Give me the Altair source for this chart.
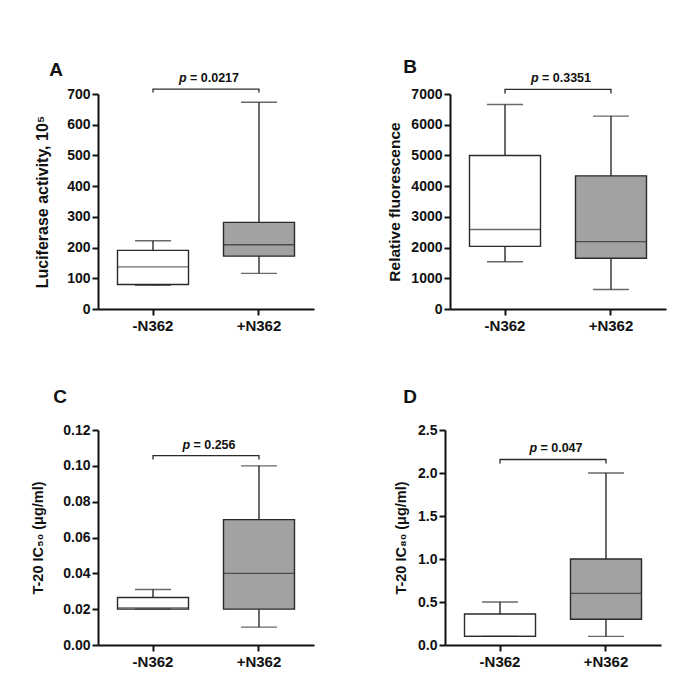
import altair as alt
import pandas as pd

GROUPS = ["-N362", "+N362"]

A_MIN = [77, 116]
A_Q1 = [80, 172]
A_MED = [137, 209]
A_Q3 = [191, 282]
A_MAX = [222, 673]

B_MIN = [1540, 633]
B_Q1 = [2040, 1650]
B_MED = [2590, 2195]
B_Q3 = [5000, 4335]
B_MAX = [6660, 6280]

C_MIN = [0.020, 0.010]
C_Q1 = [0.020, 0.020]
C_MED = [0.0207, 0.040]
C_Q3 = [0.0265, 0.070]
C_MAX = [0.031, 0.100]

D_MIN = [0.10, 0.10]
D_Q1 = [0.10, 0.30]
D_MED = [0.10, 0.60]
D_Q3 = [0.36, 1.00]
D_MAX = [0.50, 2.00]

P_VALUES = ["0.0217", "0.3351", "0.256", "0.047"]
BRACKET_Y = [716, 7150, 0.1057, 2.157]
BRACKET_Y2 = [705, 7020, 0.1036, 2.11]

Y_TITLES = ["Luciferase activity, 10\u2075", "Relative fluorescence",
            "T-20  IC\u2085\u2080  (\u03bcg/ml)", "T-20  IC\u2088\u2080  (\u03bcg/ml)"]
Y_TICKS = [[0, 100, 200, 300, 400, 500, 600, 700],
           [0, 1000, 2000, 3000, 4000, 5000, 6000, 7000],
           [0.00, 0.02, 0.04, 0.06, 0.08, 0.10, 0.12],
           [0.0, 0.5, 1.0, 1.5, 2.0, 2.5]]
Y_FORMATS = ["d", "d", ".2f", ".1f"]
LETTERS = ["A", "B", "C", "D"]
TITLE_PAD = [16, 8, 17, 9]
TITLE_SIZE = [16, 15.5, 14.5, 14.5]

FONT = "Liberation Sans"
LINE = "#2a2a2a"
AXC = "#111111"
FILLS = ["#ffffff", "#a2a2a2"]
W = 216
H = 215


def panel(i, mins, q1s, meds, q3s, maxs, letter_pos):
    df = pd.DataFrame({"g": GROUPS, "lo": mins, "q1": q1s, "med": meds,
                       "q3": q3s, "hi": maxs})
    ticks = Y_TICKS[i]
    xs = alt.Scale(domain=GROUPS, paddingInner=0.33, paddingOuter=0.184)
    xaxis = alt.Axis(title=None, labelAngle=0, labelFont=FONT, labelFontSize=15,
                     labelFontWeight="bold", labelColor=AXC, domainColor=AXC,
                     domainWidth=2, tickColor=AXC, tickWidth=2, tickSize=6,
                     labelPadding=3)
    x = alt.X("g:N", sort=GROUPS, scale=xs, axis=xaxis)
    ys = alt.Scale(domain=[ticks[0], ticks[-1]], nice=False, zero=True)
    yaxis = alt.Axis(title=Y_TITLES[i], values=ticks, format=Y_FORMATS[i], grid=False,
                     labelOverlap=False, labelFont=FONT, labelFontSize=14,
                     labelFontWeight="bold", labelColor=AXC, titleFont=FONT,
                     titleFontSize=TITLE_SIZE[i], titleFontWeight="bold",
                     titleColor=AXC, titlePadding=TITLE_PAD[i], domainColor=AXC,
                     domainWidth=2, tickColor=AXC, tickWidth=2, tickSize=6,
                     labelPadding=2)

    def Y(field):
        return alt.Y(field, scale=ys, axis=yaxis)

    base = alt.Chart(df)
    whisk = base.mark_rule(color=LINE, strokeWidth=1.4).encode(
        x=x, y=Y("lo:Q"), y2="hi:Q")
    box = base.mark_bar(stroke=LINE, strokeWidth=1.4).encode(
        x=x, y=Y("q1:Q"), y2="q3:Q",
        fill=alt.Fill("g:N", scale=alt.Scale(domain=GROUPS, range=FILLS), legend=None))
    med = base.mark_tick(color=LINE, size=71, thickness=1.4).encode(x=x, y=Y("med:Q"))
    caps = base.transform_fold(["lo", "hi"]).mark_tick(
        color=LINE, size=36, thickness=1.4).encode(x=x, y=Y("value:Q"))

    br = pd.DataFrame({"g": [GROUPS[0], GROUPS[0], GROUPS[1], GROUPS[1]],
                       "y": [BRACKET_Y2[i], BRACKET_Y[i], BRACKET_Y[i], BRACKET_Y2[i]],
                       "o": [0, 1, 2, 3]})
    bracket = alt.Chart(br).mark_line(color=LINE, strokeWidth=1.3).encode(
        x=x, y=Y("y:Q"), order="o:Q")

    pv = pd.DataFrame({"y": [BRACKET_Y[i]], "t": ["= " + P_VALUES[i]]})
    fs = 12.5
    rest_w = fs * (0.584 + 0.278 + 0.556 * (len(P_VALUES[i]) - 1) + 0.278)
    start = W / 2 - (rest_w + 11) / 2 + 3
    ptxt = alt.Chart(pv).mark_text(text="p", font=FONT, fontSize=fs, fontWeight="bold",
                                   fontStyle="italic", align="left", baseline="bottom",
                                   dy=-4, color=AXC).encode(
        x=alt.value(start), y=Y("y:Q"))
    vtxt = alt.Chart(pv).mark_text(font=FONT, fontSize=fs, fontWeight="bold",
                                   align="left", baseline="bottom", dy=-4,
                                   color=AXC).encode(
        x=alt.value(start + 11), y=Y("y:Q"), text="t:N")
    let = alt.Chart(pv).mark_text(text=LETTERS[i], font=FONT, fontSize=19,
                                  fontWeight="bold", align="center",
                                  baseline="middle", color=AXC).encode(
        x=alt.value(letter_pos[0]), y=alt.value(letter_pos[1]))
    return alt.layer(whisk, box, med, caps, bracket, ptxt, vtxt, let).properties(
        width=W, height=H)


pa = panel(0, A_MIN, A_Q1, A_MED, A_Q3, A_MAX, (-42, -24))
pb = panel(1, B_MIN, B_Q1, B_MED, B_Q3, B_MAX, (-40, -27))
pc = panel(2, C_MIN, C_Q1, C_MED, C_Q3, C_MAX, (-38, -33))
pd_ = panel(3, D_MIN, D_Q1, D_MED, D_Q3, D_MAX, (-35, -33))

row1 = alt.hconcat(pa, pb, spacing=73)
row2 = alt.hconcat(pc, pd_, spacing=79)
chart = alt.vconcat(row1, row2, spacing=55).properties(
    padding={"left": 22, "top": 50, "right": 5, "bottom": 5},
    background="white"
).configure_view(stroke=None, strokeWidth=0)

chart.save("out.html", embed_options={"renderer": "svg", "actions": False})
